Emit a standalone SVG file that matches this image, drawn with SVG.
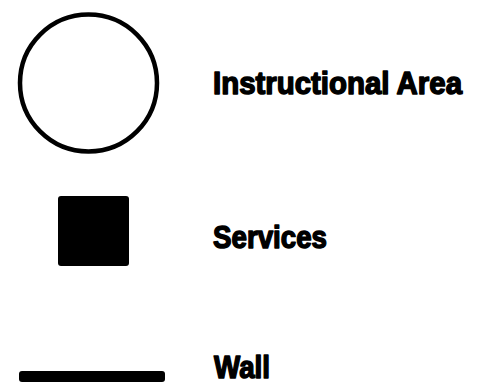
<svg xmlns="http://www.w3.org/2000/svg" width="477" height="392" viewBox="0 0 477 392">
<style>
.lbl{font-family:"Liberation Sans",Arial,sans-serif;font-weight:bold;font-size:31px;fill:#000;stroke:#000;stroke-width:1.5;stroke-linejoin:round}
</style>
<rect width="477" height="392" fill="#fff"/>
<g id="instructional-area">
<circle cx="88.5" cy="83" r="68.5" fill="none" stroke="#000" stroke-width="4.5"/>
<text class="lbl" x="213" y="94" textLength="249" lengthAdjust="spacingAndGlyphs">Instructional Area</text>
</g>
<g id="services">
<rect x="58" y="196" width="71" height="70" rx="3" fill="#000"/>
<text class="lbl" x="213" y="248" textLength="114" lengthAdjust="spacingAndGlyphs">Services</text>
</g>
<g id="wall">
<rect x="19" y="371" width="146" height="11" rx="3" fill="#000"/>
<text class="lbl" x="214" y="378" textLength="56" lengthAdjust="spacingAndGlyphs">Wall</text>
</g>
<g id="connectors"/>
</svg>
